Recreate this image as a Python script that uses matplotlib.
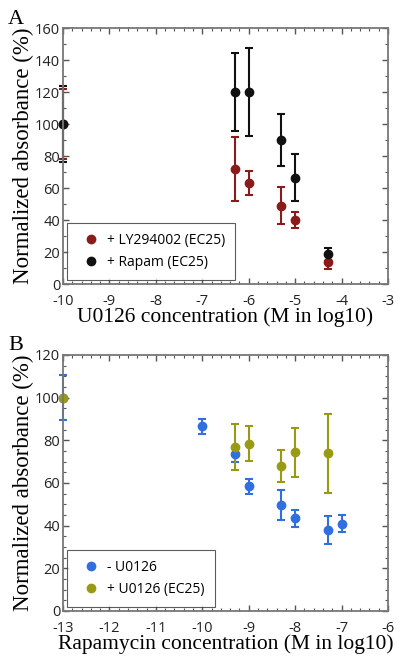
import numpy as np
import matplotlib.pyplot as plt
from matplotlib.ticker import MultipleLocator
from matplotlib.lines import Line2D

plt.rcParams['axes.unicode_minus'] = False

# Panel A: U0126 dose response
a_x = [-10, -6.3, -6, -5.3, -5, -4.3]
a_ly = [100, 72, 63, 49, 40, 14]
a_ly_err = [22, 20, 7.5, 11.5, 4.7, 4.5]
a_rap = [100, 120, 120, 90, 66.5, 18.5]
a_rap_err = [24, 24.5, 27.5, 16, 14.5, 4]

# Panel B: rapamycin dose response
b_x = [-13, -10, -9.3, -9, -8.3, -8, -7.3, -7]
b_minus = [100, 86.5, 73.5, 58.5, 49.5, 43.5, 37.8, 41]
b_minus_err = [10.5, 3.7, 3.5, 3.5, 7, 4, 6.5, 4.2]
b_plus_x = [-13, -9.3, -9, -8.3, -8, -7.3]
b_plus = [100, 77, 78.5, 68, 74.5, 74]
b_plus_err = [0, 10.7, 8.2, 7.6, 11.5, 18.5]

serif = 'Liberation Serif'
sans = 'Open Sans'

fig = plt.figure(figsize=(4.0, 6.63), dpi=100)
W, H = 400, 663
axA = fig.add_axes([63 / W, 1 - 284 / H, 325 / W, 256 / H])
axB = fig.add_axes([63 / W, 1 - 611 / H, 325 / W, 256 / H])


def errpts(ax, x, y, e, color):
    ax.errorbar(x, y, yerr=e, fmt='o', color=color, ms=6, elinewidth=1.5,
                capsize=3, capthick=1.5, clip_on=False)
    return Line2D([], [], ls='none', marker='o', ms=6, color=color)


hA = [errpts(axA, a_x, a_ly, a_ly_err, '#8b1a1a'),
      errpts(axA, a_x, a_rap, a_rap_err, '#111111')]
hB = [errpts(axB, b_x, b_minus, b_minus_err, '#2f6fe0'),
      errpts(axB, b_plus_x, b_plus, b_plus_err, '#9a9a12')]


def style(ax, xlim, ylim, ymaj, ymin, xlabel, handles, labels):
    ax.set_xlim(*xlim)
    ax.set_ylim(*ylim)
    ax.xaxis.set_major_locator(MultipleLocator(1))
    ax.xaxis.set_minor_locator(MultipleLocator(0.2))
    ax.yaxis.set_major_locator(MultipleLocator(ymaj))
    ax.yaxis.set_minor_locator(MultipleLocator(ymin))
    ax.tick_params(which='both', direction='in', top=True, right=True,
                   color='#555555', labelsize=10.5, pad=2)
    ax.tick_params(axis='x', pad=7)
    ax.tick_params(which='major', length=4, width=1)
    ax.tick_params(which='minor', length=2.5, width=0.8)
    for lab in ax.get_xticklabels() + ax.get_yticklabels():
        lab.set_family(sans)
        lab.set_color('#222222')
    for sp in ax.spines.values():
        sp.set_color('#777777')
        sp.set_linewidth(1.3)
    ax.set_xlabel(xlabel, family=serif, fontsize=15.5, labelpad=-1)
    ax.set_ylabel('Normalized absorbance (%)', family=serif, fontsize=16.5, labelpad=1)
    leg = ax.legend(handles, labels, loc='lower left',
                    prop={'family': sans, 'size': 10},
                    fancybox=False, edgecolor='#333333', handletextpad=0.2,
                    borderaxespad=0.3, borderpad=0.7, labelspacing=0.5)
    leg.get_frame().set_linewidth(0.8)


style(axA, (-10, -3), (0, 160), 20, 10, 'U0126 concentration (M in log10)',
      hA, ['+ LY294002 (EC25)', '+ Rapam (EC25)'])
style(axB, (-13, -6), (0, 120), 20, 5, 'Rapamycin concentration (M in log10)',
      hB, ['- U0126', '+ U0126 (EC25)'])

fig.text(8 / W, 1 - 24 / H, 'A', family=serif, fontsize=16)
fig.text(8 / W, 1 - 350 / H, 'B', family=serif, fontsize=16)

fig.savefig('out.png', dpi=100)
